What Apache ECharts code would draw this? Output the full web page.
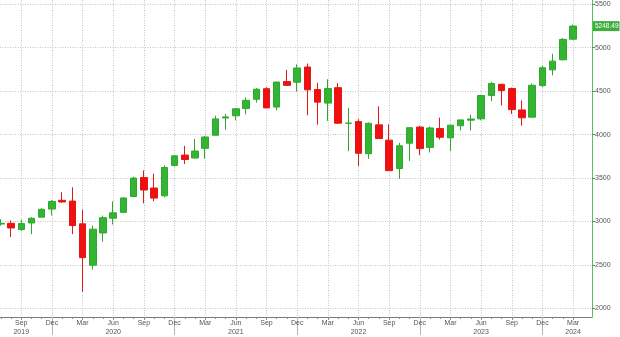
<!DOCTYPE html>
<html><head><meta charset="utf-8">
<script src="https://cdn.jsdelivr.net/npm/echarts@6/dist/echarts.min.js"></script>
<style>html,body{margin:0;padding:0;background:#fff}#c{width:620px;height:337px}</style>
</head><body><div id="c"></div>
<script>
// Monthly candles, Jul 2019 .. Mar 2024
const months = ['2019-07','2019-08','2019-09','2019-10','2019-11','2019-12',
'2020-01','2020-02','2020-03','2020-04','2020-05','2020-06','2020-07','2020-08','2020-09','2020-10','2020-11','2020-12',
'2021-01','2021-02','2021-03','2021-04','2021-05','2021-06','2021-07','2021-08','2021-09','2021-10','2021-11','2021-12',
'2022-01','2022-02','2022-03','2022-04','2022-05','2022-06','2022-07','2022-08','2022-09','2022-10','2022-11','2022-12',
'2023-01','2023-02','2023-03','2023-04','2023-05','2023-06','2023-07','2023-08','2023-09','2023-10','2023-11','2023-12',
'2024-01','2024-02','2024-03'];
const opens = [2971.41,2980.32,2909.01,2983.69,3050.72,3143.85,
3244.67,3235.66,2974.28,2498.08,2869.09,3038.78,3105.92,3288.26,3507.44,3385.87,3296.20,3645.87,
3764.61,3731.17,3842.51,3992.78,4191.98,4216.52,4300.73,4406.86,4528.80,4317.16,4610.62,4602.82,
4778.14,4519.57,4363.14,4540.32,4130.61,4149.78,3781.00,4112.38,3936.73,3609.78,3901.79,4087.14,
3853.29,4070.07,3963.34,4102.20,4166.79,4181.76,4450.48,4578.83,4530.60,4284.52,4201.27,4564.37,
4745.20,4861.11,5098.51];
const closes = [2980.38,2926.46,2976.74,3037.56,3140.98,3230.78,
3225.52,2954.22,2584.59,2912.43,3044.31,3100.29,3271.12,3500.31,3363.00,3269.96,3621.63,3756.07,
3714.24,3811.15,3972.89,4181.17,4204.11,4297.50,4395.26,4522.68,4307.54,4605.38,4567.00,4766.18,
4515.55,4373.94,4530.41,4131.93,4132.15,3785.38,4130.29,3955.00,3585.62,3871.98,4080.11,3839.50,
4076.60,3970.15,4109.31,4169.48,4179.83,4450.38,4588.96,4507.66,4288.05,4193.80,4567.80,4769.83,
4845.65,5096.27,5248.49];
const lows = [2952.22,2822.12,2891.85,2855.94,3050.72,3070.33,
3214.64,2855.84,2191.86,2447.49,2766.64,2965.66,3101.17,3284.53,3209.45,3233.94,3279.74,3633.40,
3662.71,3725.62,3723.34,3992.78,4056.88,4164.40,4233.13,4367.73,4305.91,4278.94,4560.00,4495.12,
4222.62,4114.65,4157.87,4124.28,3810.32,3636.87,3721.56,3954.53,3584.13,3491.58,3698.15,3764.49,
3794.33,3943.08,3808.86,4049.35,4048.28,4166.23,4385.05,4335.31,4238.63,4103.78,4197.74,4546.50,
4682.11,4853.52,5091.14];
const highs = [3027.98,3013.59,3021.99,3050.10,3154.26,3247.93,
3337.77,3393.52,3136.72,2954.86,3068.67,3233.13,3279.99,3514.77,3588.11,3549.85,3645.99,3760.20,
3870.90,3950.43,3983.87,4218.78,4238.04,4302.43,4429.97,4537.36,4545.85,4608.08,4743.83,4808.93,
4818.62,4595.31,4637.30,4593.45,4307.66,4177.51,4140.15,4325.28,4119.28,3905.42,4080.11,4100.96,
4094.21,4195.44,4110.75,4170.06,4231.10,4458.48,4607.07,4584.62,4541.25,4393.57,4587.64,4793.30,
4931.09,5111.06,5264.85];
const monthNames = ['Jan','Feb','Mar','Apr','May','Jun','Jul','Aug','Sep','Oct','Nov','Dec'];
const yTicks = [2000,2500,3000,3500,4000,4500,5000,5500];
const lastPrice = 5248.49;

// month index: Dec 2019 = 0
function idx(s){ const y=+s.slice(0,4), m=+s.slice(5,7); return (y-2019)*12 + (m-12); }
const tIdx = months.map(idx);
const data = months.map((s,i)=>[tIdx[i], opens[i], closes[i], lows[i], highs[i]]);
const quarterT = tIdx.filter((t,i)=>[3,6,9,12].includes(+months[i].slice(5,7)));
const decT = tIdx.filter((t,i)=>+months[i].slice(5,7)===12);
const firstQ = quarterT[0], lastQ = quarterT[quarterT.length-1];
function lbl(v){
  const i = tIdx.indexOf(Math.round(v));
  if (i<0 || Math.abs(v-Math.round(v))>1e-6) return '';
  const s = months[i], m = +s.slice(5,7), y = s.slice(0,4);
  let t = monthNames[m-1];
  if (m===6 || v===firstQ || v===lastQ) t += '\n' + y;
  return t;
}
const XMIN = -5.08, XMAX = 52.85;
const font = 'Liberation Sans, Arial, sans-serif';
const chart = echarts.init(document.getElementById('c'), null, {renderer:'canvas'});
const grid = {left:0, right:28, top:0, bottom:17.5};
const gridLine = {show:true, lineStyle:{color:'#c4c4c4', type:[1,1.5], width:1}};
chart.setOption({
  animation:false,
  backgroundColor:'#fff',
  grid: grid,
  xAxis: [{
    type:'value', min:XMIN, max:XMAX, position:'bottom',
    axisLine:{show:true, onZero:false, lineStyle:{color:'#7a7a7a', width:1}},
    axisTick:{show:true, length:3, customValues: quarterT, lineStyle:{color:'#888'}},
    axisLabel:{show:true, customValues: quarterT, formatter: lbl, fontSize:7, color:'#555', margin:2, lineHeight:9, fontFamily:font},
    splitLine: gridLine
  },{
    type:'value', min:XMIN, max:XMAX, position:'bottom',
    axisLine:{show:false, onZero:false},
    axisTick:{show:true, length:2, customValues: tIdx, lineStyle:{color:'#888'}},
    axisLabel:{show:false}, splitLine:{show:false}
  },{
    type:'value', min:XMIN, max:XMAX, position:'bottom',
    axisLine:{show:false, onZero:false},
    axisTick:{show:true, length:18, customValues: decT, lineStyle:{color:'#b5b5b5', width:1}},
    axisLabel:{show:false}, splitLine:{show:false}
  }],
  yAxis: {
    type:'value', position:'right', min:1902, max:5549,
    axisLine:{show:true, onZero:false, lineStyle:{color:'#55c455', width:1}},
    axisTick:{show:true, length:3, customValues: yTicks, lineStyle:{color:'#777'}},
    axisLabel:{show:true, customValues: yTicks, formatter: v=>String(v), fontSize:7, color:'#555', margin:3, fontFamily:font},
    splitLine: gridLine
  },
  series: [{
    type:'candlestick', layout:'horizontal', xAxisIndex:0, yAxisIndex:0,
    data: data, encode:{x:0, y:[1,2,3,4]},
    barWidth: 7,
    itemStyle:{color:'#33b533', color0:'#f01010', borderColor:'#2ea82e', borderColor0:'#e01818', borderWidth:1},
    markLine:{
      silent:true, symbol:'none', animation:false,
      lineStyle:{color:'rgba(0,0,0,0)', width:0},
      data:[{yAxis:lastPrice}],
      label:{show:true, position:'end', distance:1, formatter: String(lastPrice),
        backgroundColor:'#3fae3f', color:'#fff', fontSize:6.5, padding:[2,1,1,2], fontFamily:font}
    }
  }]
});
</script>
</body></html>
